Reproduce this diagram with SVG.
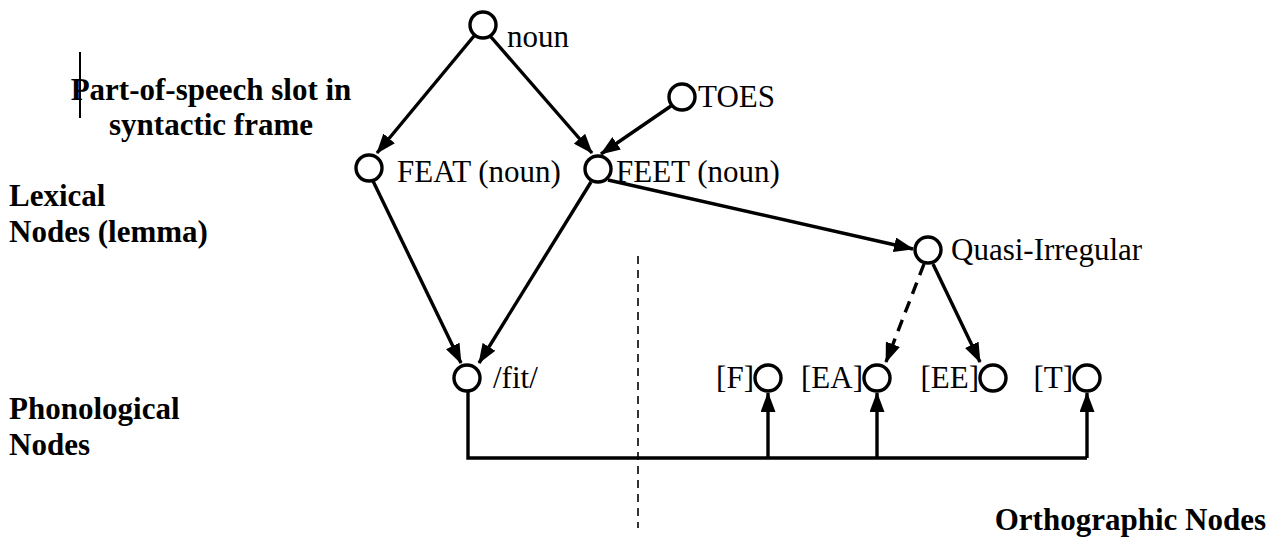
<svg xmlns="http://www.w3.org/2000/svg" width="1277" height="546" viewBox="0 0 1277 546">
<defs>
<marker id="ah" markerUnits="userSpaceOnUse" markerWidth="20" markerHeight="15" refX="19" refY="7.5" orient="auto">
<path d="M0,0 L20,7.5 L0,15 z" fill="#000"/>
</marker>
<style>
.node{fill:#fff;stroke:#000;stroke-width:3.4}
.lbl{font-family:"Liberation Serif","Times New Roman",serif;font-size:31px;fill:#000}
.hdr{font-family:"Liberation Serif","Times New Roman",serif;font-size:31px;font-weight:bold;fill:#000}
.edge{fill:none;stroke:#000;stroke-width:3.4}
</style>
</defs>
<rect width="1277" height="546" fill="#fff"/>

<g id="labels">
<line x1="80" y1="52" x2="80" y2="118" stroke="#000" stroke-width="2"/>
<text class="hdr" x="211" y="100" text-anchor="middle">Part-of-speech slot in</text>
<text class="hdr" x="211" y="135" text-anchor="middle">syntactic frame</text>
<text class="hdr" x="9" y="206">Lexical</text>
<text class="hdr" x="9" y="242">Nodes (lemma)</text>
<text class="hdr" x="9" y="419">Phonological</text>
<text class="hdr" x="9" y="455">Nodes</text>
<text class="hdr" x="1266" y="530" text-anchor="end">Orthographic Nodes</text>
</g>

<g id="connectors">
<line class="edge" x1="474" y1="36" x2="377" y2="153" marker-end="url(#ah)"/>
<line class="edge" x1="491" y1="37" x2="592" y2="153" marker-end="url(#ah)"/>
<line class="edge" x1="671" y1="106" x2="601" y2="154" marker-end="url(#ah)"/>
<line class="edge" x1="608" y1="180" x2="913" y2="249" marker-end="url(#ah)"/>
<line class="edge" x1="373" y1="181" x2="461" y2="363" marker-end="url(#ah)"/>
<line class="edge" x1="591" y1="182" x2="479" y2="363" marker-end="url(#ah)"/>
<line class="edge" x1="924" y1="264" x2="886" y2="362" stroke-dasharray="12,8" marker-end="url(#ah)"/>
<line class="edge" x1="933" y1="264" x2="980" y2="362" marker-end="url(#ah)"/>
<polyline class="edge" points="468,391 468,458 1087,458" stroke-width="4"/>
<line class="edge" x1="768" y1="458" x2="768" y2="393" marker-end="url(#ah)"/>
<line class="edge" x1="877" y1="458" x2="877" y2="393" marker-end="url(#ah)"/>
<line class="edge" x1="1087" y1="458" x2="1087" y2="393" marker-end="url(#ah)"/>
<line x1="638" y1="256" x2="638" y2="528" stroke="#000" stroke-width="1.6" stroke-dasharray="8,6"/>
</g>

<g id="noun"><circle class="node" cx="483" cy="25" r="13"/><text class="lbl" x="507" y="47">noun</text></g>
<g id="toes"><circle class="node" cx="682" cy="97" r="13"/><text class="lbl" x="698" y="107">TOES</text></g>
<g id="feat"><circle class="node" cx="369" cy="168" r="13"/><text class="lbl" x="397" y="182">FEAT (noun)</text></g>
<g id="feet"><circle class="node" cx="598" cy="169" r="13"/><text class="lbl" x="616" y="182">FEET (noun)</text></g>
<g id="quasi"><circle class="node" cx="928" cy="250" r="13"/><text class="lbl" x="951" y="260">Quasi-Irregular</text></g>
<g id="fit"><circle class="node" cx="467" cy="378" r="13"/><text class="lbl" x="493" y="388">/fit/</text></g>
<g id="F"><circle class="node" cx="768" cy="378" r="13"/><text class="lbl" x="754" y="388" text-anchor="end">[F]</text></g>
<g id="EA"><circle class="node" cx="877" cy="378" r="13"/><text class="lbl" x="863" y="388" text-anchor="end">[EA]</text></g>
<g id="EE"><circle class="node" cx="993" cy="378" r="13"/><text class="lbl" x="979" y="388" text-anchor="end">[EE]</text></g>
<g id="T"><circle class="node" cx="1087" cy="378" r="13"/><text class="lbl" x="1073" y="388" text-anchor="end">[T]</text></g>
</svg>
